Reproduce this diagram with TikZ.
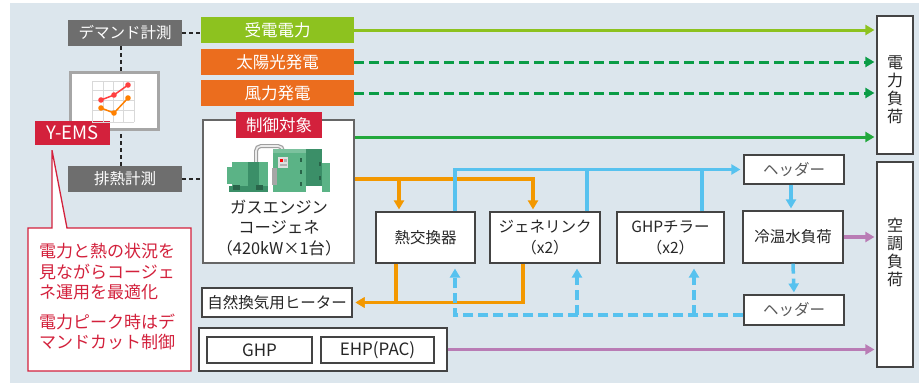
\documentclass[tikz,border=0pt]{standalone}
\usepackage{fontspec}
\setmainfont{Noto Sans CJK JP}
\usetikzlibrary{arrows.meta, positioning}
\definecolor{bgblue}{HTML}{DCE6ED}
\definecolor{measgray}{HTML}{6E6E6E}
\definecolor{lightgreen}{HTML}{8DC21F}
\definecolor{srcorange}{HTML}{EB6D1E}
\definecolor{pvgreen}{HTML}{0A9C46}
\definecolor{cggreen}{HTML}{22A83C}
\definecolor{emsred}{HTML}{D3213C}
\definecolor{heatorange}{HTML}{F39800}
\definecolor{waterblue}{HTML}{57C2EF}
\definecolor{loadpurple}{HTML}{B97CB5}
\definecolor{enginelight}{HTML}{5BB386}
\definecolor{enginedark}{HTML}{3B8F68}
\definecolor{boxline}{HTML}{444444}
\tikzstyle{measure} = [rectangle, minimum width=114pt, minimum height=26pt, inner sep=0pt, fill=measgray, text=white]
\tikzstyle{source} = [rectangle, minimum width=153pt, minimum height=26pt, inner sep=0pt, text=white, font=\fontsize{16.5}{18}\selectfont]
\tikzstyle{tag} = [rectangle, inner sep=0pt, fill=emsred, text=white, font=\fontsize{16.5}{18}\selectfont]
\tikzstyle{unit} = [rectangle, draw=boxline, fill=white, line width=1.2pt, inner sep=0pt, align=center, text=black!85]
\tikzstyle{header} = [unit, minimum width=100pt, minimum height=29pt, text=black!65]
\tikzstyle{loadbox} = [rectangle, draw=boxline, fill=white, line width=1.2pt, minimum width=36pt]
\tikzstyle{vtext} = [align=center, inner sep=0pt, text=black!85, font=\fontsize{16}{18}\selectfont]
\tikzstyle{dotline} = [line width=2.6pt, dash pattern=on 4pt off 3pt, black!85]
\tikzstyle{flowtip} = [-{Triangle[length=9pt,width=10pt]}, shorten >=2pt]
\tikzstyle{greenarrow} = [line width=3pt, flowtip]
\tikzstyle{pvdash} = [dash pattern=on 10pt off 5pt]
\tikzstyle{heat} = [heatorange, line width=3.5pt]
\tikzstyle{water} = [waterblue, line width=3.5pt]
\tikzstyle{returnline} = [dash pattern=on 10pt off 5pt]
\tikzstyle{purp} = [loadpurple, line width=3.5pt, flowtip]

\begin{document}
\begin{tikzpicture}[x=1pt, y=-1pt, font=\fontsize{15.5}{18}\selectfont]
    \useasboundingbox (0,0) rectangle (919,383);
    \fill[bgblue] (10,3) rectangle (919,383);

    % measurement and EMS
    \node (demand) [measure] at (125,33) {デマンド計測};
    \node (exhaust) [measure] at (125,179) {排熱計測};
    \node (icon) [rectangle, draw=gray!70, line width=3pt, fill=white, minimum width=88pt, minimum height=57pt] at (114.5,101) {};
    \node (ems) [tag, minimum width=75pt, minimum height=24pt, font=\fontsize{18.5}{20}\selectfont] at (72.5,133) {Y-EMS};

    % chart inside the EMS screen
    \foreach \gx in {92,103,113,123,134}
        \draw[gray!30, line width=0.8pt] (\gx,81) -- (\gx,122);
    \foreach \gy in {81,90,100,110,122}
        \draw[gray!30, line width=0.8pt] (92,\gy) -- (134,\gy);
    \draw[red!75, line width=1.5pt] (101,100) -- (114,95) -- (128,85);
    \draw[orange, line width=1.5pt] (101,108) -- (114,113) -- (128,98);
    \foreach \px/\py in {101/100, 114/95, 128/85}
        \fill[red!75] (\px,\py) circle (2.8pt);
    \foreach \px/\py in {101/108, 114/113, 128/98}
        \fill[orange] (\px,\py) circle (2.8pt);

    % power sources
    \node (juden) [source, fill=lightgreen] at (277.5,30) {受電電力};
    \node (solar) [source, fill=srcorange] at (277.5,62) {太陽光発電};
    \node (wind) [source, fill=srcorange] at (277.5,93) {風力発電};

    % cogeneration
    \node (engine) [unit, draw=gray!80!black, minimum width=151pt, minimum height=143pt] at (278.5,191.5) {};
    \node (ctrl) [tag, minimum width=86pt, minimum height=26pt] at (279,125) {制御対象};
    \node (cgname) [align=center, text=black!85, font=\fontsize{16.3}{20.5}\selectfont] at (279,228) {ガスエンジン\\コージェネ\\（420kW×1台）};

    % gas engine drawing
    \draw[gray!75, line width=4pt, rounded corners=5pt] (256,163) -- (256,146) -- (283,146) -- (283,152);
    \draw[gray!15, line width=1.6pt, rounded corners=5pt] (256,163) -- (256,146) -- (283,146) -- (283,152);
    \fill[enginelight] (232,162) rectangle (268,187);
    \fill[enginedark] (248,162) rectangle (259,187);
    \fill[enginelight] (227,167) rectangle (233,184);
    \fill[enginedark] (229,186) rectangle (268,192);
    \fill[enginedark!70!black] (233,185) rectangle (240,190);
    \fill[enginedark!70!black] (256,185) rectangle (263,190);
    \fill[enginelight] (273,149) rectangle (306,192);
    \fill[enginelight!80!white] (273,149) rectangle (306,153);
    \fill[enginedark] (306,149) rectangle (322,186);
    \fill[enginelight] (322,163) rectangle (330,192);
    \fill[gray!25] (278,157) rectangle (288,168);
    \fill[red] (280,159) rectangle (283,161.5);
    \fill[gray!60] (284,159) rectangle (286.5,161.5);
    \fill[gray!60] (280,163.5) rectangle (286.5,166);
    \fill[gray!70] (272,168) rectangle (276.5,185);
    \foreach \ty in {158,170,182}
        \fill[enginedark!70!black] (300,\ty) rectangle (302,\ty+4);
    \foreach \ty in {162,176}
        \fill[enginedark!70!black] (319,\ty) rectangle (321,\ty+4);

    % heat users and chillers
    \node (hex) [unit, minimum width=99pt, minimum height=51pt] at (425.5,237.5) {熱交換器};
    \node (gen) [unit, minimum width=110pt, minimum height=51pt, font=\fontsize{15.5}{21}\selectfont] at (545,237.5) {ジェネリンク\\（x2）};
    \node (chil) [unit, minimum width=107pt, minimum height=51pt, font=\fontsize{15.5}{21}\selectfont] at (670.5,237.5) {GHPチラー\\（x2）};
    \node (hdrt) [header] at (794,169.5) {ヘッダー};
    \node (load) [unit, minimum width=100pt, minimum height=52pt] at (793,237) {冷温水負荷};
    \node (hdrb) [header, minimum height=30pt] at (794,310) {ヘッダー};
    \node (heater) [unit, minimum width=150pt, minimum height=29pt] at (277,302.5) {自然換気用ヒーター};

    % heat pumps
    \node (hpbox) [unit, minimum width=248pt, minimum height=43pt] at (323,349.5) {};
    \node (ghp) [unit, minimum width=105pt, minimum height=26pt, font=\fontsize{17}{18}\selectfont] at (259.5,350) {GHP};
    \node (ehp) [unit, minimum width=113pt, minimum height=26pt, font=\fontsize{17}{18}\selectfont] at (377.5,350) {EHP(PAC)};

    % loads
    \node (pload) [loadbox, minimum height=138pt] at (895,85) {};
    \node (aircon) [loadbox, minimum height=205pt] at (895,264.5) {};
    \node (ploadtxt) [vtext] at ([yshift=-74pt]pload.north) {電\\力\\負\\荷};
    \node (aircontxt) [vtext] at ([yshift=-91pt]aircon.north) {空\\調\\負\\荷};

    % measurement links
    \draw[dotline] (demand.east) -- (demand.east -| juden.west);
    \draw[dotline] (exhaust.east) -- (exhaust.east -| engine.west);
    \draw[dotline] ([xshift=-4pt]demand.south) -- ([xshift=-4pt]demand.south |- icon.north);
    \draw[dotline] ([xshift=-4pt]exhaust.north) -- ([xshift=-4pt]exhaust.north |- icon.south);

    % electricity
    \draw[lightgreen, greenarrow] (juden.east) -- (juden.east -| pload.west);
    \draw[pvgreen, greenarrow, pvdash] (solar.east) -- (solar.east -| pload.west);
    \draw[pvgreen, greenarrow, pvdash] (wind.east) -- (wind.east -| pload.west);
    \draw[cggreen, greenarrow] ([yshift=54.5pt]engine.east) -- ([yshift=54.5pt]engine.east -| pload.west);

    % exhaust heat
    \coordinate (heatline) at ([yshift=12.5pt]engine.east);
    \draw[heat, flowtip] (heatline) -| ([xshift=-12pt]gen.north);
    \draw[heat, flowtip] ([xshift=-26.5pt]hex.north |- heatline) -- ([xshift=-26.5pt]hex.north);
    \draw[heat, flowtip, shorten >=3pt] ([xshift=-29.5pt]hex.south) |- (heater.east);
    \draw[heat, flowtip, shorten >=3pt] ([xshift=-22pt]gen.south) |- (heater.east);

    % chilled / hot water supply
    \draw[water, flowtip, shorten >=3pt] ([xshift=29.5pt]hex.north) |- (hdrt.west);
    \draw[water] ([xshift=42pt]gen.north) -- ([xshift=42pt]gen.north |- hdrt.west);
    \draw[water] ([xshift=31.5pt]chil.north) -- ([xshift=31.5pt]chil.north |- hdrt.west);
    \draw[water, flowtip] ([xshift=-3pt]hdrt.south) -- ([xshift=-3pt]hdrt.south |- load.north);

    % water return
    \coordinate (retline) at ([yshift=-5pt]hdrb.west);
    \draw[water, returnline, flowtip, shorten >=0pt] (retline) -| ([xshift=29.5pt,yshift=-5pt]hex.south);
    \draw[water, returnline, flowtip, shorten >=0pt] ([xshift=32pt]gen.south |- retline) -- ([xshift=32pt,yshift=-5pt]gen.south);
    \draw[water, returnline, flowtip, shorten >=0pt] ([xshift=23.5pt]chil.south |- retline) -- ([xshift=23.5pt,yshift=-5pt]chil.south);
    \draw[water, returnline, flowtip] (load.south) -- (hdrb.north);

    % air conditioning
    \draw[purp] (load.east) -- (load.east -| aircon.west);
    \draw[purp] (hpbox.east) -- (hpbox.east -| aircon.west);

    % EMS note
    \coordinate (notetip) at ([xshift=-20.5pt,yshift=-5pt]ems.south);
    \draw[emsred, line width=1.3pt, fill=white] (28,228) -- (notetip |- 0,228) -- (notetip) -- (67,228) -- (191,228) -- (191,371) -- (28,371) -- cycle;
    \node (note) [anchor=north west, align=left, inner sep=0pt, text=emsred, font=\fontsize{17}{20.5}\selectfont] at (39,243) {電力と熱の状況を\\見ながらコージェ\\ネ運用を最適化\\[9pt]電力ピーク時はデ\\マンドカット制御};
\end{tikzpicture}
\end{document}
